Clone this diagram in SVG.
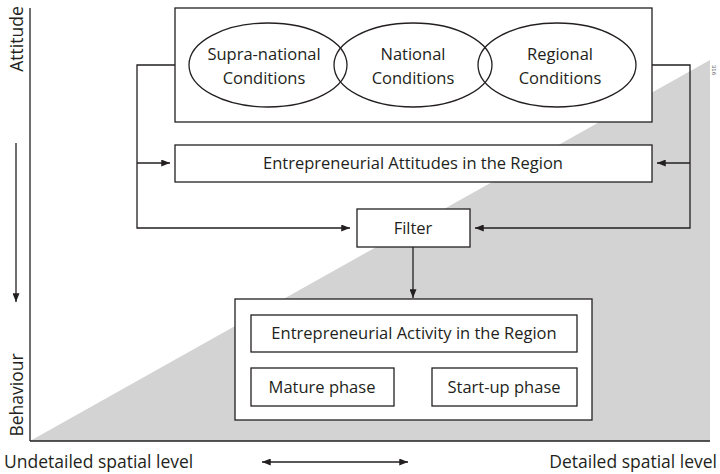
<svg xmlns="http://www.w3.org/2000/svg" width="720" height="474" viewBox="0 0 720 474">
  <style>
    .box { fill: #ffffff; stroke: #231f20; stroke-width: 1.3; }
    .ell { fill: none; stroke: #231f20; stroke-width: 1.3; }
    .ln { fill: none; stroke: #231f20; stroke-width: 1.3; }
    .t { font-family: "Open Sans", "Noto Sans", "Liberation Sans", sans-serif; font-size: 16.5px; fill: #231f20; text-anchor: middle; }
    .ax { font-family: "Open Sans", "Noto Sans", "Liberation Sans", sans-serif; font-size: 17.5px; fill: #231f20; }
  </style>
  <defs>
    <marker id="arr" viewBox="0 0 10 8" refX="10" refY="4" markerWidth="10" markerHeight="7" markerUnits="userSpaceOnUse" orient="auto-start-reverse">
      <path d="M0,0 L10,4 L0,8 Z" fill="#231f20"/>
    </marker>
  </defs>

  <rect width="720" height="474" fill="#ffffff"/>

  <!-- shaded wedge: level of spatial detail -->
  <polygon points="30,441 710,60 710,441" fill="#d3d3d4"/>

  <!-- axes -->
  <g id="axes">
    <line class="ln" x1="30" y1="8" x2="30" y2="441" stroke-width="1.6"/>
    <line class="ln" x1="30" y1="441" x2="710" y2="441" stroke-width="1.6"/>
    <line class="ln" x1="16" y1="143" x2="16" y2="302" marker-end="url(#arr)"/>
    <line class="ln" x1="262" y1="462" x2="408" y2="462" marker-start="url(#arr)" marker-end="url(#arr)"/>
    <text class="ax" transform="translate(23,39) rotate(-90)" text-anchor="middle">Attitude</text>
    <text class="ax" transform="translate(23,395) rotate(-90)" text-anchor="middle">Behaviour</text>
    <text class="ax" x="4" y="468" font-size="18px">Undetailed spatial level</text>
    <text class="ax" x="717" y="468" font-size="18px" text-anchor="end">Detailed spatial level</text>
    <text transform="translate(712,70) rotate(90)" font-family="Liberation Sans, sans-serif" font-size="6" fill="#555" text-anchor="middle">316</text>
  </g>

  <!-- connectors -->
  <g id="connectors">
    <polyline class="ln" points="175,65 137,65 137,228 350,228" marker-end="url(#arr)"/>
    <line class="ln" x1="137" y1="163" x2="170" y2="163" marker-end="url(#arr)"/>
    <polyline class="ln" points="652,65 690,65 690,228 475,228" marker-end="url(#arr)"/>
    <line class="ln" x1="690" y1="163" x2="657" y2="163" marker-end="url(#arr)"/>
    <line class="ln" x1="413" y1="247" x2="413" y2="298" marker-end="url(#arr)"/>
  </g>

  <g id="conditions">
    <rect class="box" x="175" y="8" width="477" height="114"/>
    <ellipse class="ell" cx="268" cy="65" rx="79" ry="42"/>
    <ellipse class="ell" cx="413" cy="65" rx="79" ry="42"/>
    <ellipse class="ell" cx="557" cy="65" rx="79" ry="42"/>
    <text class="t" x="264" y="60">Supra-national</text>
    <text class="t" x="264" y="84">Conditions</text>
    <text class="t" x="413" y="60">National</text>
    <text class="t" x="413" y="84">Conditions</text>
    <text class="t" x="560" y="60">Regional</text>
    <text class="t" x="560" y="84">Conditions</text>
  </g>

  <g id="attitudes">
    <rect class="box" x="175" y="145" width="477" height="37"/>
    <text class="t" x="413" y="169">Entrepreneurial Attitudes in the Region</text>
  </g>

  <g id="filter">
    <rect class="box" x="357" y="209" width="113" height="38"/>
    <text class="t" x="413" y="234">Filter</text>
  </g>

  <g id="activity">
    <rect class="box" x="235" y="299" width="357" height="121"/>
    <rect class="box" x="251" y="315" width="326" height="37"/>
    <text class="t" x="414" y="339">Entrepreneurial Activity in the Region</text>
  </g>

  <g id="mature">
    <rect class="box" x="251" y="368" width="143" height="38"/>
    <text class="t" x="322" y="393">Mature phase</text>
  </g>

  <g id="startup">
    <rect class="box" x="432" y="368" width="145" height="38"/>
    <text class="t" x="504" y="393">Start-up phase</text>
  </g>
</svg>
